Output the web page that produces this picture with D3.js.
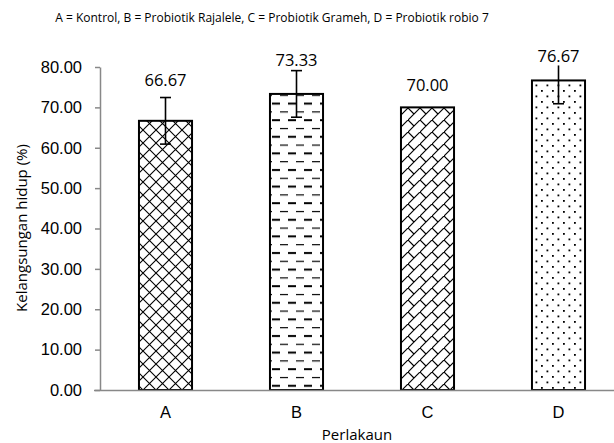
<!doctype html>
<html lang="en">
  <head>
    <meta charset="UTF-8" />
    <title>Kelangsungan hidup</title>
    <style>
      body { margin: 0; background: #fff; }
      svg { display: block; font-family: "Open Sans", sans-serif; }
      .axis path, .axis line { stroke: #888; stroke-width: 1.5; }
      .axis text { font-size: 16.5px; fill: #000; }
    </style>
  </head>
  <body>
    <div id="chart"></div>
    <script src="https://cdn.jsdelivr.net/npm/d3@7"></script>
    <script>
      // data
      const categories = ["A", "B", "C", "D"];
      const survival = [66.67, 73.33, 70.0, 76.67];
      const errors = [5.77, 5.77, 0, 5.77];
      const yTicks = [0, 10, 20, 30, 40, 50, 60, 70, 80];
      const title = "A = Kontrol, B = Probiotik Rajalele, C = Probiotik Grameh, D = Probiotik robio 7";
      const patterns = ["cross", "dash", "brick", "dots"];

      const width = 614, height = 443;
      const svg = d3.select("#chart").append("svg")
          .attr("width", width)
          .attr("height", height);

      svg.append("rect").attr("width", width).attr("height", height).attr("fill", "#fff");

      // fill patterns (black & white like the original)
      const defs = svg.append("defs");
      const cross = defs.append("pattern").attr("id", "cross")
          .attr("patternUnits", "userSpaceOnUse").attr("width", 13).attr("height", 13);
      cross.append("rect").attr("width", 13).attr("height", 13).attr("fill", "#fff");
      cross.append("path").attr("d", "M0,0L13,13M13,0L0,13")
          .attr("stroke", "#000").attr("stroke-width", 1.1);

      const dash = defs.append("pattern").attr("id", "dash")
          .attr("patternUnits", "userSpaceOnUse").attr("width", 16).attr("height", 16.6);
      dash.append("rect").attr("width", 16).attr("height", 16.6).attr("fill", "#fff");
      dash.append("path").attr("d", "M0,4H8").attr("stroke", "#000").attr("stroke-width", 2);
      dash.append("path").attr("d", "M8,12.3H16").attr("stroke", "#000").attr("stroke-width", 1.2);

      const brick = defs.append("pattern").attr("id", "brick")
          .attr("patternUnits", "userSpaceOnUse").attr("width", 12).attr("height", 12);
      brick.append("rect").attr("width", 12).attr("height", 12).attr("fill", "#fff");
      brick.append("path").attr("d", "M-1,13L13,-1M0,0L6,6")
          .attr("stroke", "#000").attr("stroke-width", 1.2);

      const dots = defs.append("pattern").attr("id", "dots")
          .attr("patternUnits", "userSpaceOnUse").attr("width", 11).attr("height", 11);
      dots.append("rect").attr("width", 11).attr("height", 11).attr("fill", "#fff");
      dots.append("rect").attr("x", 2).attr("y", 2).attr("width", 1.8).attr("height", 1.8).attr("fill", "#000");
      dots.append("rect").attr("x", 7.5).attr("y", 7.5).attr("width", 1.8).attr("height", 1.8).attr("fill", "#000");

      const x = d3.scaleBand()
          .domain(categories)
          .range([100, 624])
          .paddingInner(0.595)
          .paddingOuter(0.2975);

      const y = d3.scaleLinear().domain([0, 80]).range([390, 67]);

      // y axis
      svg.append("g")
          .attr("class", "axis")
          .attr("transform", "translate(100,0)")
          .call(d3.axisLeft(y).tickValues(yTicks).tickFormat(d3.format(".2f")).tickSize(5).tickPadding(13).tickSizeOuter(0));

      // bars
      const data = categories.map((c, i) => ({ c, v: survival[i], e: errors[i], p: patterns[i] }));

      svg.selectAll(".bar")
          .data(data)
          .enter().append("rect")
          .attr("class", "bar")
          .attr("x", d => x(d.c))
          .attr("y", d => y(d.v))
          .attr("width", x.bandwidth())
          .attr("height", d => y(0) - y(d.v))
          .attr("fill", d => `url(#${d.p})`)
          .attr("stroke", "#000")
          .attr("stroke-width", 2);

      // x axis (drawn over bar bottoms)
      const xAxis = svg.append("g")
          .attr("class", "axis")
          .attr("transform", "translate(0,390)")
          .call(d3.axisBottom(x).tickSize(0).tickPadding(16));
      xAxis.select(".domain").attr("d", "M94,0.5H624");

      // error bars
      const cap = 5.5;
      const err = svg.selectAll(".err")
          .data(data.filter(d => d.e > 0))
          .enter().append("g")
          .attr("class", "err")
          .attr("stroke", "#000")
          .attr("stroke-width", 1.6);
      const cx = d => x(d.c) + x.bandwidth() / 2;
      err.append("line")
          .attr("x1", cx).attr("x2", cx)
          .attr("y1", d => y(d.v - d.e)).attr("y2", d => y(d.v + d.e));
      err.append("line")
          .attr("x1", d => cx(d) - cap).attr("x2", d => cx(d) + cap)
          .attr("y1", d => y(d.v + d.e)).attr("y2", d => y(d.v + d.e));
      err.append("line")
          .attr("x1", d => cx(d) - cap).attr("x2", d => cx(d) + cap)
          .attr("y1", d => y(d.v - d.e)).attr("y2", d => y(d.v - d.e));

      // value labels (placed by hand in the original, so lifted per bar);
      // they sit on a white box that hides what is behind them
      const labelLift = [35, 28, 16, 18];
      const labels = svg.selectAll(".val")
          .data(data)
          .enter().append("g")
          .attr("class", "val")
          .attr("transform", (d, i) => `translate(${cx(d)},${y(d.v) - labelLift[i]})`);
      labels.append("rect")
          .attr("x", -24).attr("y", -14)
          .attr("width", 48).attr("height", 17)
          .attr("fill", "#fff");
      labels.append("text")
          .attr("text-anchor", "middle")
          .attr("font-size", 16.5)
          .text(d => d.v.toFixed(2));

      // titles
      svg.append("text")
          .attr("x", 272)
          .attr("y", 22)
          .attr("text-anchor", "middle")
          .attr("font-size", 12)
          .text(title);

      svg.append("text")
          .attr("transform", "translate(27,228) rotate(-90)")
          .attr("text-anchor", "middle")
          .attr("font-size", 15)
          .text("Kelangsungan hidup (%)");

      svg.append("text")
          .attr("x", 357)
          .attr("y", 440)
          .attr("text-anchor", "middle")
          .attr("font-size", 15)
          .text("Perlakaun");
    </script>
  </body>
</html>
